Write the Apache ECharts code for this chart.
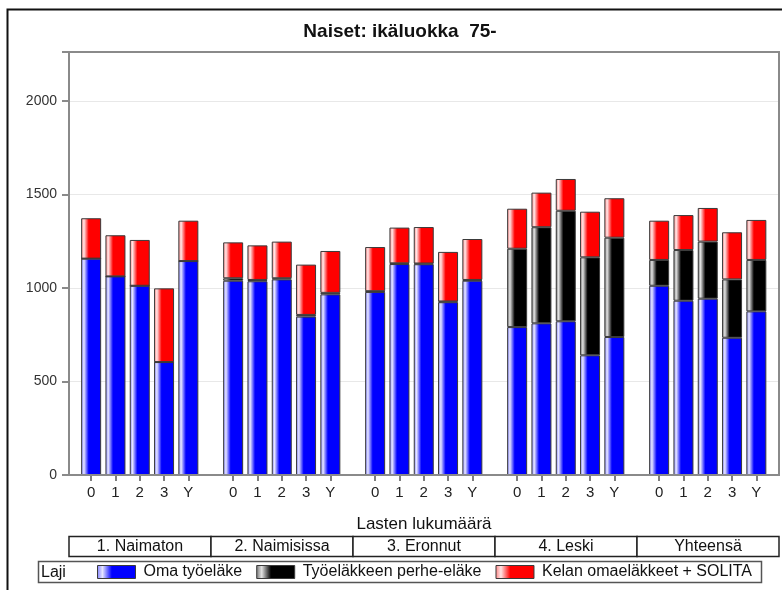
<!DOCTYPE html>
<html>
<head>
<meta charset="utf-8">
<script src="https://cdn.jsdelivr.net/npm/echarts@6/dist/echarts.min.js"></script>
<style>
html,body{margin:0;padding:0;background:#fff;}
#chart{width:782px;height:590px;}
</style>
</head>
<body>
<div id="chart"></div>
<script>
// ---- data ----
const chartTitle = 'Naiset: ikäluokka  75-';
const xAxisTitle = 'Lasten lukumäärä';
const categories = ['0', '1', '2', '3', 'Y'];
const panels = ['1. Naimaton', '2. Naimisissa', '3. Eronnut', '4. Leski', 'Yhteensä'];
const seriesNames = ['Oma työeläke', 'Työeläkkeen perhe-eläke', 'Kelan omaeläkkeet + SOLITA'];
const legendTitle = 'Laji';
const yTicks = [0, 500, 1000, 1500, 2000];
// values per panel (0,1,2,3,Y)
const omaTyoelake = [
  [1157, 1062, 1012, 604, 1144],
  [1039, 1036, 1046, 847, 966],
  [979, 1128, 1127, 924, 1039],
  [791, 811, 822, 640, 738],
  [1012, 932, 943, 734, 875]
];
const perheElake = [
  [0, 0, 0, 0, 0],
  [13, 7, 6, 9, 8],
  [4, 4, 4, 4, 4],
  [419, 514, 591, 524, 531],
  [138, 271, 305, 312, 275]
];
const kelaSolita = [
  [216, 220, 245, 394, 216],
  [192, 185, 196, 269, 224],
  [236, 191, 195, 265, 219],
  [214, 185, 170, 244, 211],
  [210, 187, 180, 252, 214]
];

// ---- layout ----
const plotL = 69, plotT = 52, plotW = 710, plotH = 423;
const panelW = plotW / panels.length;
const innerPad = 10, innerW = 121.5;
const yMax = 2262;
const font = 'Liberation Sans, Arial, sans-serif';

function grad(c0, c1, c2) {
  return new echarts.graphic.LinearGradient(0, 0, 1, 0, [
    { offset: 0, color: c0 },
    { offset: 0.14, color: c1 },
    { offset: 0.38, color: c2 },
    { offset: 1, color: c2 }
  ]);
}
const fills = [
  grad('#7d7dff', '#e6e6ff', '#0000ff'),
  grad('#707070', '#e2e2e2', '#000000'),
  grad('#ff8080', '#ffe6e6', '#ff0000')
];
const dataSets = [omaTyoelake, perheElake, kelaSolita];

const grids = [{ left: plotL, top: plotT, width: plotW, height: plotH, show: false }];
const xAxes = [{ type: 'value', gridIndex: 0, show: false, min: 0, max: 1 }];
const yAxes = [{
  type: 'value', gridIndex: 0, min: 0, max: yMax, interval: 500,
  axisLine: { show: true, lineStyle: { color: '#8a8a8a', width: 2 } },
  axisTick: { show: true, length: 7, lineStyle: { color: '#8a8a8a', width: 2 } },
  axisLabel: {
    color: '#333', fontSize: 14, fontFamily: font, margin: 12,
    formatter: v => (yTicks.indexOf(v) >= 0 ? String(v) : '')
  },
  splitLine: { show: true, lineStyle: { color: '#e8e8e8', width: 1 } }
}];
const series = [];
panels.forEach((p, i) => {
  grids.push({ left: plotL + i * panelW + innerPad, top: plotT, width: innerW, height: plotH, show: false });
  xAxes.push({
    type: 'category', gridIndex: i + 1, data: categories,
    axisLine: { show: false },
    axisTick: { show: true, alignWithLabel: true, length: 6, lineStyle: { color: '#555', width: 1.5 } },
    axisLabel: { color: '#222', fontSize: 15, fontFamily: font, margin: 10 }
  });
  yAxes.push({ type: 'value', gridIndex: i + 1, min: 0, max: yMax, show: false, splitLine: { show: false } });
  dataSets.forEach((ds, k) => {
    series.push({
      type: 'bar', name: seriesNames[k], xAxisIndex: i + 1, yAxisIndex: i + 1,
      stack: 'p' + i, barWidth: 20, data: ds[i],
      itemStyle: { color: fills[k], borderColor: '#3a3a3a', borderWidth: 1 },
      emphasis: { disabled: true }
    });
  });
});

const graphics = [
  // outer frame (left + top)
  { type: 'polyline', shape: { points: [[7.5, 590], [7.5, 9.5], [782, 9.5]] }, style: { stroke: '#111', lineWidth: 2, fill: null }, silent: true },
  // plot frame
  { type: 'rect', shape: { x: plotL, y: plotT, width: plotW, height: plotH }, style: { stroke: '#8a8a8a', lineWidth: 2, fill: null }, silent: true, z: 10 },
  // title
  { type: 'text', x: 400, y: 32, style: { text: chartTitle, font: 'bold 19px ' + font, fill: '#111', textAlign: 'center', textVerticalAlign: 'middle' } },
  // x axis title
  { type: 'text', x: plotL + plotW / 2, y: 524, style: { text: xAxisTitle, font: '17px ' + font, fill: '#111', textAlign: 'center', textVerticalAlign: 'middle' } },
  // legend box
  { type: 'rect', shape: { x: 38.5, y: 561.5, width: 723, height: 21 }, style: { stroke: '#555', lineWidth: 1.5, fill: '#fff' }, silent: true },
  { type: 'text', x: 41, y: 572.5, style: { text: legendTitle, font: '16px ' + font, fill: '#111', textVerticalAlign: 'middle' } }
];
panels.forEach((p, i) => {
  const x = plotL + i * panelW;
  graphics.push({ type: 'rect', shape: { x: x, y: 536.5, width: panelW, height: 20 }, style: { stroke: '#222', lineWidth: 1.5, fill: '#fff' }, silent: true });
  graphics.push({ type: 'text', x: x + panelW / 2, y: 547, style: { text: p, font: '16px ' + font, fill: '#111', textAlign: 'center', textVerticalAlign: 'middle' } });
});

const chart = echarts.init(document.getElementById('chart'));
chart.setOption({
  animation: false,
  backgroundColor: '#fff',
  grid: grids,
  xAxis: xAxes,
  yAxis: yAxes,
  legend: {
    data: seriesNames, left: 97, top: 564, itemWidth: 38, itemHeight: 13, itemGap: 14,
    icon: 'rect', selectedMode: false, z: 20, padding: 0,
    textStyle: { fontSize: 16, fontFamily: font, color: '#111', padding: [0, 0, 0, 3] },
    itemStyle: { borderColor: '#3a3a3a', borderWidth: 1 }
  },
  graphic: graphics,
  series: series
});
</script>
</body>
</html>
